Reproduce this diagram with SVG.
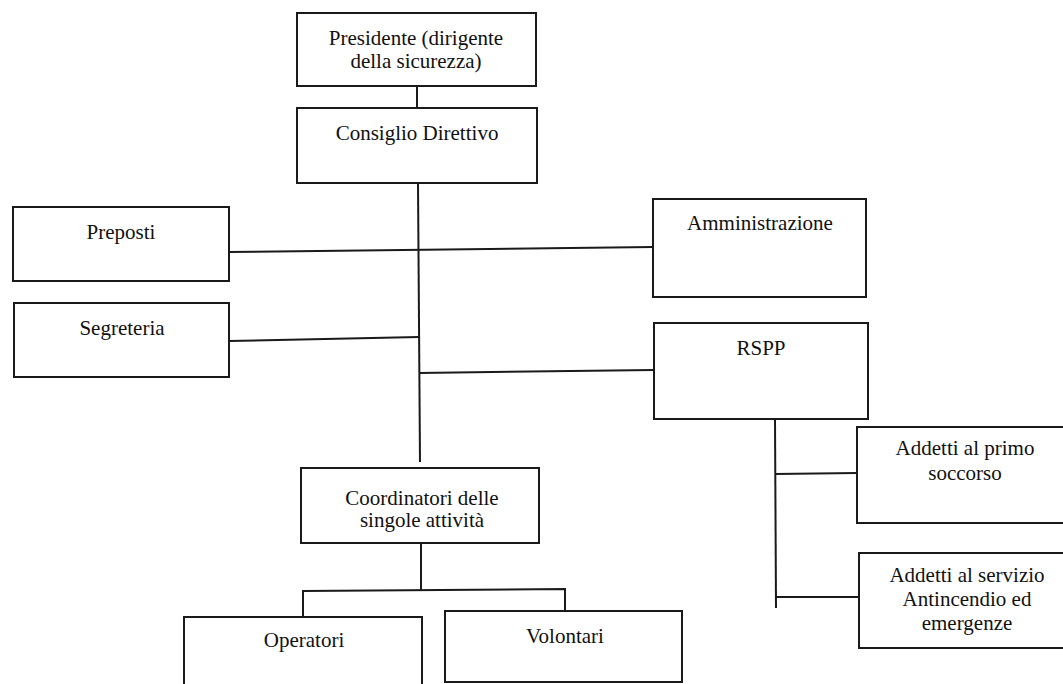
<svg xmlns="http://www.w3.org/2000/svg" width="1063" height="684" viewBox="0 0 1063 684">
<style>
.box{fill:#fff;stroke:#1a1a1a;stroke-width:2}
.ln{fill:none;stroke:#1a1a1a;stroke-width:2}
text{font-family:"Liberation Serif","Times New Roman",serif;font-size:21px;fill:#111;text-anchor:middle}
</style>
<rect width="1063" height="684" fill="#fff"/>
<g id="connectors">
<line class="ln" x1="417" y1="86" x2="417" y2="108"/>
<line class="ln" x1="418" y1="183" x2="420" y2="462"/>
<line class="ln" x1="229" y1="252" x2="653" y2="247"/>
<line class="ln" x1="229" y1="341" x2="419" y2="337"/>
<line class="ln" x1="419" y1="373" x2="654" y2="370"/>
<line class="ln" x1="775" y1="419" x2="776" y2="608"/>
<line class="ln" x1="775" y1="474" x2="857" y2="473"/>
<line class="ln" x1="776" y1="597" x2="859" y2="597"/>
<line class="ln" x1="421" y1="543" x2="421" y2="590"/>
<polyline class="ln" points="303,617 303,591 565,589 565,611"/>
</g>
<g id="presidente"><rect class="box" x="297" y="13" width="239" height="73"/><text x="416" y="45">Presidente (dirigente</text><text x="416" y="68">della sicurezza)</text></g>
<g id="consiglio"><rect class="box" x="297" y="108" width="240" height="75"/><text x="417" y="140">Consiglio Direttivo</text></g>
<g id="preposti"><rect class="box" x="13" y="207" width="216" height="74"/><text x="121" y="239">Preposti</text></g>
<g id="segreteria"><rect class="box" x="14" y="303" width="215" height="74"/><text x="122" y="335">Segreteria</text></g>
<g id="amministrazione"><rect class="box" x="653" y="199" width="213" height="98"/><text x="760" y="230">Amministrazione</text></g>
<g id="rspp"><rect class="box" x="654" y="323" width="214" height="96"/><text x="761" y="355">RSPP</text></g>
<g id="coordinatori"><rect class="box" x="301" y="468" width="238" height="75"/><text x="422" y="505">Coordinatori delle</text><text x="422" y="527">singole attività</text></g>
<g id="operatori"><rect class="box" x="184" y="617" width="238" height="80"/><text x="304" y="647">Operatori</text></g>
<g id="volontari"><rect class="box" x="445" y="611" width="237" height="71"/><text x="565" y="643">Volontari</text></g>
<g id="primo-soccorso"><rect class="box" x="857" y="427" width="220" height="96"/><text x="965" y="455">Addetti al primo</text><text x="965" y="480">soccorso</text></g>
<g id="antincendio"><rect class="box" x="859" y="553" width="220" height="95"/><text x="967" y="582">Addetti al servizio</text><text x="967" y="606">Antincendio ed</text><text x="967" y="630">emergenze</text></g>
</svg>
